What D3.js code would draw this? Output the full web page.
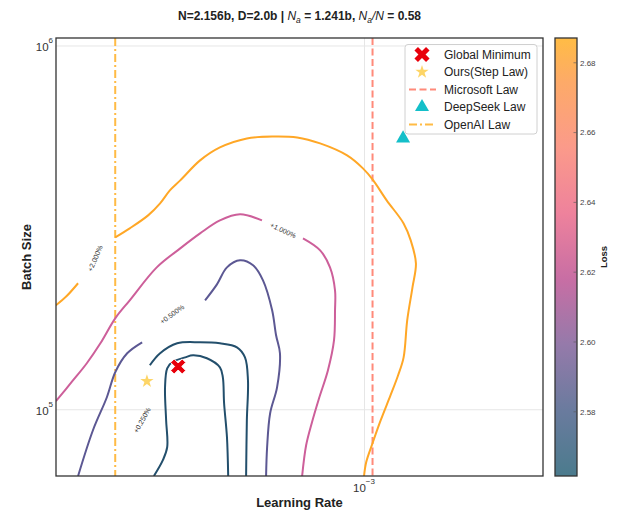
<!DOCTYPE html>
<html><head><meta charset="utf-8">
<script src="https://cdn.jsdelivr.net/npm/d3@7"></script>
<style>body{margin:0;background:#fff;} svg{display:block;font-family:"Liberation Sans",Arial,Helvetica,sans-serif;}</style>
</head><body><svg id="c" width="618" height="515"></svg>
<script>
// ---------------- data ----------------
const lrDomain = [2.421e-4, 2.280e-3];
const bsDomain = [65536, 1048576];
const xTickValues = [1e-3];
const xTickExp = ["\u22123"];
const yTickValues = [1e5, 1e6];
const yTickExp = ["5", "6"];
const lossDomain = [2.5616, 2.6871];
const lossTicks = [2.58, 2.60, 2.62, 2.64, 2.66, 2.68];
const levelNames = ["+0.250%", "+0.500%", "+1.000%", "+2.000%"];
const levelColors = ["#234f6c", "#5c5893", "#cd5f9a", "#ffa726"];

// contour lines [learning rate, batch size]
const contour025Inner = [[3.80e-4,65536],[3.96e-4,72430],[4.04e-4,78630],[4.02e-4,93300],[4.00e-4,114900],[4.04e-4,129600],[4.13e-4,134600],[4.39e-4,138900],[4.55e-4,140700],[4.85e-4,138100],[5.15e-4,130400],[5.22e-4,122400],[5.25e-4,103900],[5.32e-4,83780],[5.35e-4,65536]];
const contour025Outer = [[3.73e-4,132100],[3.91e-4,142500],[4.23e-4,151800],[4.70e-4,152800],[5.15e-4,151800],[5.57e-4,148000],[5.78e-4,138900],[5.86e-4,120100],[5.83e-4,93300],[5.81e-4,65536]];
const contour050A = [[2.68e-4,65536],[2.87e-4,87560],[3.06e-4,107900],[3.18e-4,126400],[3.36e-4,142500],[3.60e-4,152800]];
const contour050B = [[4.81e-4,199300],[5.08e-4,220500],[5.32e-4,245500],[5.65e-4,256700],[6.00e-4,248700],[6.28e-4,226100],[6.55e-4,187100],[6.67e-4,159700],[6.79e-4,142500],[6.70e-4,114900],[6.49e-4,97500],[6.40e-4,78630],[6.37e-4,65536]];
const contour100A = [[2.42e-4,105200],[2.61e-4,119400],[2.79e-4,133800],[2.97e-4,151800],[3.18e-4,177800],[3.40e-4,199300],[3.85e-4,245500],[4.29e-4,276900],[4.70e-4,304400],[5.15e-4,330500],[5.65e-4,343400],[6.25e-4,330500]];
const contour100B = [[7.55e-4,295000],[8.17e-4,273400],[8.55e-4,245500],[8.75e-4,212300],[8.75e-4,187100],[8.71e-4,154800],[8.47e-4,128000],[8.13e-4,107200],[7.87e-4,92100],[7.66e-4,79630],[7.52e-4,65536]];
const contour200A = [[2.42e-4,193100],[2.54e-4,204400],[2.68e-4,222000]];
const contour200B = [[3.18e-4,296900],[3.40e-4,314300],[3.70e-4,341200],[3.91e-4,368100],[4.09e-4,399600],[4.29e-4,425700],[4.70e-4,483200],[5.15e-4,524600],[5.83e-4,555300],[6.58e-4,562300],[7.35e-4,558800],[8.17e-4,538000],[9.25e-4,498700],[9.95e-4,459400],[1.04e-3,428400],[1.11e-3,375200],[1.20e-3,324300],[1.24e-3,291200],[1.27e-3,251800],[1.25e-3,216400],[1.22e-3,175600],[1.20e-3,138900],[1.17e-3,124000],[1.13e-3,109300],[1.08e-3,93300],[1.04e-3,80650],[1.01e-3,71490],[1.00e-3,65536]];

// inline contour labels
const contourLabelLr = [3.60e-4, 4.13e-4, 6.89e-4, 2.90e-4];
const contourLabelBs = [93300, 182400, 310300, 259900];
const contourLabelAngle = [-61, -36, 25, -67];

// reference points / lines
const globalMin = [4.25e-4, 131072];
const stepLaw = [3.68e-4, 119400];
const deepSeek = [1.197e-3, 555300];
const microsoftLr = 1.04e-3;
const openaiLr = 3.18e-4;
const legendLabels = ["Global Minimum", "Ours(Step Law)", "Microsoft Law", "DeepSeek Law", "OpenAI Law"];

// colormap stops (as rendered)
const cmapStops = [[0,"#4b7b8d"],[0.15,"#6a7b9e"],[0.3,"#957aaa"],[0.45,"#c86ea4"],[0.6,"#ee829c"],[0.75,"#fb9a8a"],[0.9,"#fdaa68"],[1,"#ffbc45"]];

// ---------------- chart ----------------
const W = 618, H = 515;
const M = {left: 56, right: 543, top: 38, bottom: 476};
const svg = d3.select("#c");
svg.append("rect").attr("width", W).attr("height", H).attr("fill", "#fff");

const x = d3.scaleLog().domain(lrDomain).range([M.left, M.right]);
const y = d3.scaleLog().domain(bsDomain).range([M.bottom, M.top]);

const defs = svg.append("defs");
defs.append("clipPath").attr("id", "clip").append("rect")
  .attr("x", M.left).attr("y", M.top).attr("width", M.right - M.left).attr("height", M.bottom - M.top);

// grid
const gy = svg.append("g").attr("transform", `translate(${M.left},0)`)
  .call(d3.axisLeft(y).tickValues(yTickValues).tickSize(-(M.right - M.left)).tickFormat(""));
gy.select(".domain").remove();
gy.selectAll(".tick line").attr("stroke", "#e6e6e6").attr("stroke-width", 1);
const gx = svg.append("g").attr("transform", `translate(0,${M.bottom})`)
  .call(d3.axisBottom(x).tickValues(xTickValues).tickSize(-(M.bottom - M.top)).tickFormat(""));
gx.select(".domain").remove();
gx.selectAll(".tick line").attr("stroke", "#e6e6e6").attr("stroke-width", 1);

// tick labels
yTickValues.forEach((v, i) => {
  const t = svg.append("text").attr("x", M.left - 3).attr("y", y(v) + 6).attr("text-anchor", "end")
    .attr("fill", "#333").attr("font-size", 11.5);
  t.append("tspan").text("10");
  t.append("tspan").attr("dy", -8).attr("font-size", 8).text(yTickExp[i]);
});
xTickValues.forEach((v, i) => {
  const t = svg.append("text").attr("x", x(v)).attr("y", M.bottom + 16).attr("text-anchor", "middle")
    .attr("fill", "#333").attr("font-size", 11.5);
  t.append("tspan").text("10");
  t.append("tspan").attr("dy", -8).attr("font-size", 8).text(xTickExp[i]);
});

const plot = svg.append("g").attr("clip-path", "url(#clip)");

// reference lines
plot.append("line").attr("x1", x(openaiLr)).attr("x2", x(openaiLr)).attr("y1", M.top).attr("y2", M.bottom)
  .attr("stroke", "#ffbb45").attr("stroke-width", 2).attr("stroke-dasharray", "8,3,2,3");
plot.append("line").attr("x1", x(microsoftLr)).attr("x2", x(microsoftLr)).attr("y1", M.top).attr("y2", M.bottom)
  .attr("stroke", "#ff8a7a").attr("stroke-width", 2).attr("stroke-dasharray", "7,3.5");

// contours
const contours = [
  {lvl: 0, pts: contour025Inner}, {lvl: 0, pts: contour025Outer},
  {lvl: 1, pts: contour050A}, {lvl: 1, pts: contour050B},
  {lvl: 2, pts: contour100A}, {lvl: 2, pts: contour100B},
  {lvl: 3, pts: contour200A}, {lvl: 3, pts: contour200B}
];
const line = d3.line().x(d => x(d[0])).y(d => y(d[1])).curve(d3.curveCatmullRom.alpha(0.5));
plot.selectAll("path.ct").data(contours).join("path").attr("class", "ct")
  .attr("d", d => line(d.pts)).attr("fill", "none")
  .attr("stroke", d => levelColors[d.lvl]).attr("stroke-width", 2).attr("stroke-linecap", "butt");

levelNames.forEach((n, i) => {
  const px = x(contourLabelLr[i]), py = y(contourLabelBs[i]);
  svg.append("text").attr("transform", `translate(${px},${py}) rotate(${contourLabelAngle[i]})`)
    .attr("text-anchor", "middle").attr("dy", "0.35em").attr("font-size", 7).attr("fill", "#333").text(n);
});

// markers
function xMarker(L, w) {
  const pts = [[-w,-L],[w,-L],[w,-w],[L,-w],[L,w],[w,w],[w,L],[-w,L],[-w,w],[-L,w],[-L,-w],[-w,-w]];
  const c = Math.SQRT1_2;
  return "M" + pts.map(p => [(p[0]-p[1])*c, (p[0]+p[1])*c].join(",")).join("L") + "Z";
}
const starPath = d3.symbol(d3.symbolStar, 55)();
const triPath = d3.symbol(d3.symbolTriangle, 85)();

svg.append("path").attr("d", xMarker(8.2, 2.5))
  .attr("transform", `translate(${x(globalMin[0])},${y(globalMin[1])})`)
  .attr("fill", "#e8000b").attr("stroke", "#fff").attr("stroke-width", 1);
svg.append("path").attr("d", starPath)
  .attr("transform", `translate(${x(stepLaw[0])},${y(stepLaw[1])})`)
  .attr("fill", "#fdd567");
svg.append("path").attr("d", triPath)
  .attr("transform", `translate(${x(deepSeek[0])},${y(deepSeek[1])})`)
  .attr("fill", "#14bfc9");

// frame
svg.append("rect").attr("x", M.left).attr("y", M.top).attr("width", M.right - M.left).attr("height", M.bottom - M.top)
  .attr("fill", "none").attr("stroke", "#333").attr("stroke-width", 1.3);

// legend
const lg = svg.append("g");
lg.append("rect").attr("x", 405).attr("y", 44.5).attr("width", 132).attr("height", 89.5).attr("rx", 3)
  .attr("fill", "#fff").attr("fill-opacity", 0.85).attr("stroke", "#d0d0d0").attr("stroke-width", 1);
const rowY = i => 54.5 + i * 17.5;
lg.append("path").attr("d", xMarker(8.2, 2.5)).attr("transform", `translate(422,${rowY(0)})`).attr("fill", "#e8000b");
lg.append("path").attr("d", starPath).attr("transform", `translate(422,${rowY(1)})`).attr("fill", "#fdd567");
lg.append("line").attr("x1", 409).attr("x2", 436).attr("y1", rowY(2)).attr("y2", rowY(2))
  .attr("stroke", "#ff8a7a").attr("stroke-width", 2).attr("stroke-dasharray", "7,3.5");
lg.append("path").attr("d", triPath).attr("transform", `translate(422,${rowY(3)})`).attr("fill", "#14bfc9");
lg.append("line").attr("x1", 409).attr("x2", 436).attr("y1", rowY(4)).attr("y2", rowY(4))
  .attr("stroke", "#ffbb45").attr("stroke-width", 2).attr("stroke-dasharray", "8,3,2,3");
legendLabels.forEach((t, i) => {
  lg.append("text").attr("x", 444).attr("y", rowY(i)).attr("dy", "0.35em").attr("font-size", 12)
    .attr("fill", "#222").text(t);
});

// colorbar
const cb = {x: 555, w: 22};
const grad = defs.append("linearGradient").attr("id", "cmap").attr("x1", 0).attr("y1", 1).attr("x2", 0).attr("y2", 0);
cmapStops.forEach(s => grad.append("stop").attr("offset", s[0]).attr("stop-color", s[1]));
const cy = d3.scaleLinear().domain(lossDomain).range([M.bottom, M.top]);
svg.append("rect").attr("x", cb.x).attr("y", M.top).attr("width", cb.w).attr("height", M.bottom - M.top)
  .attr("fill", "url(#cmap)").attr("stroke", "#333").attr("stroke-width", 1.3);
lossTicks.forEach(v => {
  svg.append("line").attr("x1", cb.x + cb.w - 3.5).attr("x2", cb.x + cb.w).attr("y1", cy(v)).attr("y2", cy(v))
    .attr("stroke", "#555").attr("stroke-opacity", 0.6).attr("stroke-width", 1);
  svg.append("text").attr("x", cb.x + cb.w + 3).attr("y", cy(v)).attr("dy", "0.35em")
    .attr("font-size", 8).attr("fill", "#444").text(d3.format(".2f")(v));
});
svg.append("text").attr("transform", `translate(607,${(M.top + M.bottom) / 2}) rotate(-90)`)
  .attr("text-anchor", "middle").attr("font-size", 9.5).attr("font-weight", "bold").attr("fill", "#222").text("Loss");

// axis titles
svg.append("text").attr("x", (M.left + M.right) / 2).attr("y", 507).attr("text-anchor", "middle")
  .attr("font-size", 13).attr("font-weight", "bold").attr("fill", "#222").text("Learning Rate");
svg.append("text").attr("transform", `translate(31,${(M.top + M.bottom) / 2}) rotate(-90)`)
  .attr("text-anchor", "middle").attr("font-size", 13).attr("font-weight", "bold").attr("fill", "#222").text("Batch Size");

// title
const title = svg.append("text").attr("x", (M.left + M.right) / 2).attr("y", 20).attr("text-anchor", "middle")
  .attr("font-size", 12).attr("font-weight", "bold").attr("fill", "#222");
title.append("tspan").text("N=2.156b, D=2.0b | ");
title.append("tspan").attr("font-style", "italic").attr("font-weight", "normal").text("N");
title.append("tspan").attr("font-style", "italic").attr("font-weight", "normal").attr("font-size", 8.5).attr("dy", 3).text("a");
title.append("tspan").attr("dy", -3).text(" = 1.241b, ");
title.append("tspan").attr("font-style", "italic").attr("font-weight", "normal").text("N");
title.append("tspan").attr("font-style", "italic").attr("font-weight", "normal").attr("font-size", 8.5).attr("dy", 3).text("a");
title.append("tspan").attr("font-style", "italic").attr("font-weight", "normal").attr("dy", -3).text("/N");
title.append("tspan").text(" = 0.58");
</script></body></html>
